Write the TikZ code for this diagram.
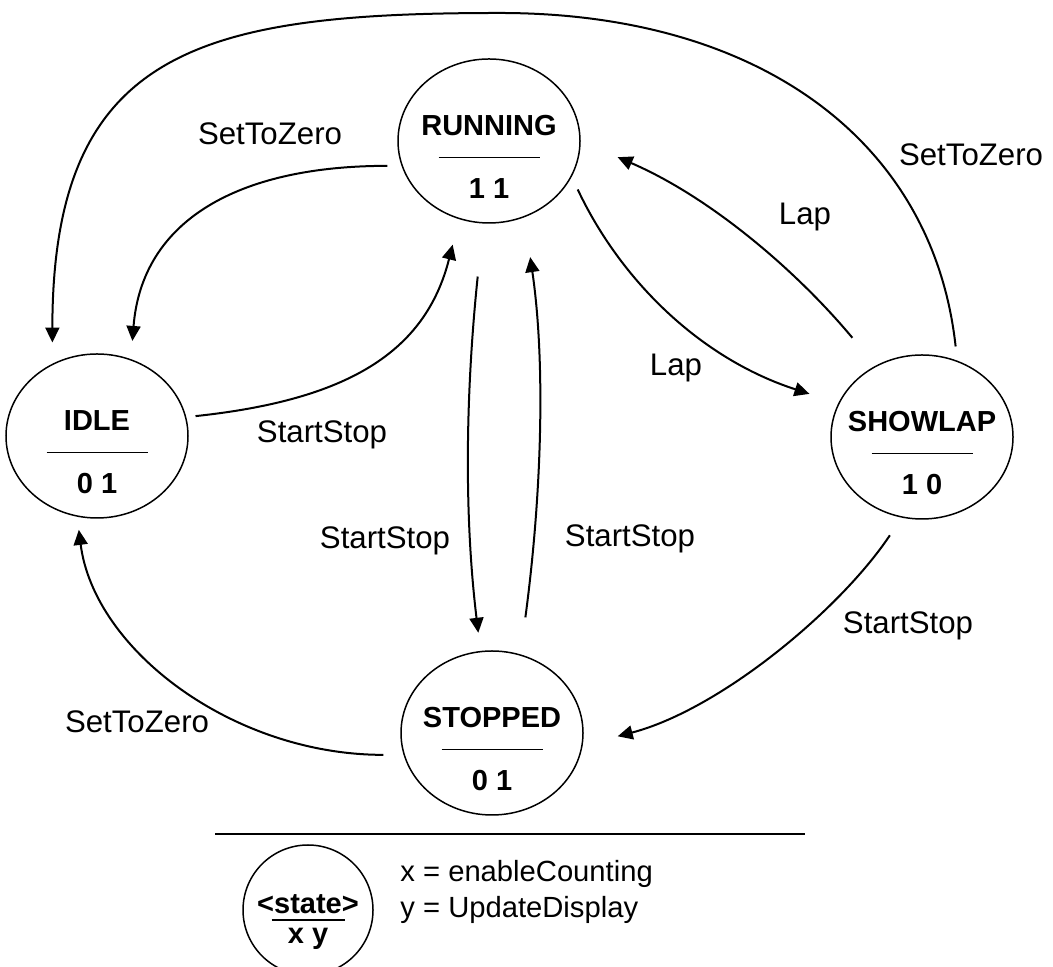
\documentclass[tikz,border=0pt]{standalone}
\usepackage{fontspec}
\setmainfont{Liberation Sans}
\usetikzlibrary{arrows.meta,shapes.geometric}

\tikzset{
  state/.style={shape=ellipse,draw=black,line width=0.75pt,minimum width=91pt,minimum height=82pt,inner sep=0pt,outer sep=0pt},
  statetext/.style={anchor=base,font=\fontsize{14.5}{17}\selectfont\bfseries,inner sep=0pt},
  divider/.style={line width=0.75pt},
  trans/.style={-{Triangle[length=7.5pt,width=7pt]},line width=1pt},
  lbl/.style={font=\fontsize{15.6}{18}\selectfont,inner sep=0pt},
  keytext/.style={anchor=base west,font=\fontsize{14.6}{17}\selectfont,inner sep=0pt}
}

\begin{document}
\begin{tikzpicture}[x=0.5pt,y=0.5pt]
    \useasboundingbox (0,0) rectangle (1053,967);
    \node[state] (run) at (489,826) {};
    \node[state] (idle) at (97,531) {};
    \node[state] (show) at (922,530) {};
    \node[state] (stop) at (492,234) {};
    \foreach \s/\t/\v in {run/RUNNING/1 1,idle/IDLE/0 1,show/SHOWLAP/1 0,stop/STOPPED/0 1} {
        \node[statetext] (\s-n) at ([yshift=2.5pt]\s.center) {\t};
        \draw[divider] ([xshift=-25.25pt,yshift=-8.25pt]\s.center) -- ++(101,0);
        \node[statetext] (\s-v) at ([yshift=-28.75pt]\s.center) {\v};
    }
    \coordinate (arc) at (500,954);
    \draw[trans,shorten <=7.5pt,shorten >=11pt] (show.65) .. controls +(-24,220) and +(260,0) .. (arc) .. controls +(-300,0) and +(0,315) .. (idle.122);
    \draw[trans,shorten <=7.5pt,shorten >=9.5pt] (run.196) .. controls +(-165,0) and +(11,139) .. (idle.66);
    \draw[trans,shorten <=5pt,shorten >=13.5pt] (idle.12) .. controls +(160,17) and +(-34,-135) .. (run.249);
    \draw[trans,shorten <=27pt,shorten >=9.5pt] (run.266) .. controls +(-16,-154) and +(-18,149) .. (stop.98);
    \draw[trans,shorten <=19pt,shorten >=20.5pt] (stop.70) .. controls +(22,165) and +(21,-143) .. (run.295);
    \draw[trans,shorten <=7.5pt,shorten >=15.5pt] (run.337) .. controls +(49,-104) and +(-139,45) .. (show.158);
    \draw[trans,shorten <=18.5pt,shorten >=20.5pt] (show.123) .. controls +(-80,96) and +(130,-56) .. (run.0);
    \draw[trans,shorten <=11pt,shorten >=18.5pt] (show.256) .. controls +(-62,-93) and +(138,36) .. (stop.352);
    \draw[trans,shorten <=10.5pt,shorten >=7pt] (stop.194) .. controls +(-171,0) and +(17,-134) .. (idle.256);
    \node[lbl] (zero1) at (270,833) {SetToZero};
    \node[lbl] (zero2) at (971,812) {SetToZero};
    \node[lbl] (zero3) at (137,245) {SetToZero};
    \node[lbl] (lap1) at (805,750) {Lap};
    \node[lbl] (lap2) at (676,599) {Lap};
    \node[lbl] (ss1) at (322,532) {StartStop};
    \node[lbl] (ss2) at (385,426) {StartStop};
    \node[lbl] (ss3) at (630,428) {StartStop};
    \node[lbl] (ss4) at (908,341) {StartStop};
    \draw[line width=0.9pt] (215,133) -- (805,133);
    \node[state,minimum width=65pt,minimum height=65pt] (key) at (308,57) {};
    \node[statetext] (key-n) at ([yshift=-2pt]key.center) {<state>};
    \draw[divider] ([xshift=-18.25pt,yshift=-5pt]key.center) -- ++(73,0);
    \node[statetext] (key-v) at ([yshift=-17pt]key.center) {x y};
    \node[keytext] (kx) at (400,85) {x = enableCounting};
    \node[keytext] (ky) at (400,49) {y = UpdateDisplay};
\end{tikzpicture}
\end{document}
